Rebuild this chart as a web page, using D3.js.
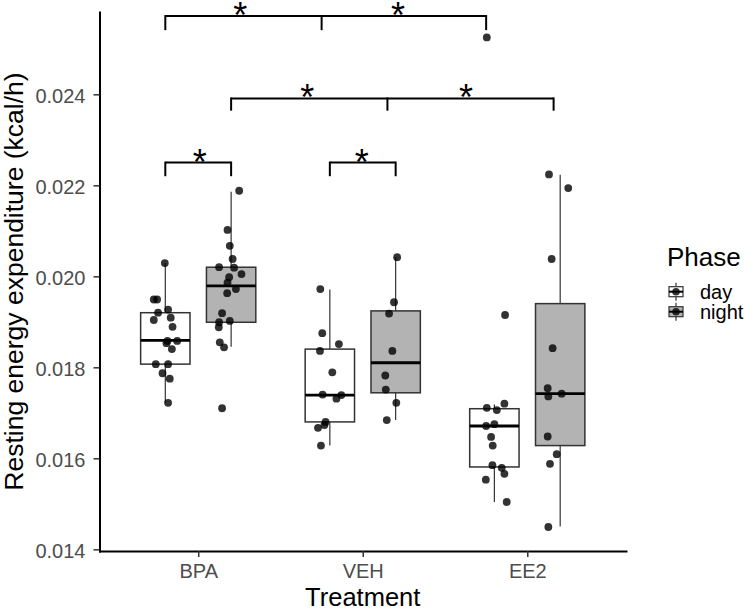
<!DOCTYPE html>
<html>
<head>
<meta charset="utf-8">
<script src="https://cdn.jsdelivr.net/npm/d3@7"></script>
<style>
  body { margin: 0; background: #fff; }
  text { font-family: "Liberation Sans", Arial, sans-serif; }
</style>
</head>
<body>
<div id="chart-area"></div>
<script>
// categories
let treatments = ["BPA", "VEH", "EE2"];
let phases = ["day", "night"];
let yTicks = [0.014, 0.016, 0.018, 0.020, 0.022, 0.024];

// box statistics, one entry per treatment x phase (BPA day, BPA night, VEH day, ...)
let boxGroups = [["BPA", "day"], ["BPA", "night"], ["VEH", "day"], ["VEH", "night"], ["EE2", "day"], ["EE2", "night"]];
let boxLow    = [0.01722, 0.01845, 0.01628, 0.01684, 0.01504, 0.01450];
let boxQ1     = [0.01807, 0.01899, 0.01680, 0.01744, 0.01581, 0.01628];
let boxMedian = [0.01859, 0.01979, 0.01739, 0.01810, 0.01671, 0.01742];
let boxQ3     = [0.01920, 0.02020, 0.01840, 0.01924, 0.01709, 0.01940];
let boxHigh   = [0.02029, 0.02186, 0.01971, 0.02042, 0.01718, 0.02223];

// individual animals (value, jitter in category units)
let bpaDay = [0.02029, 0.01949, 0.01949, 0.01927, 0.01920, 0.01904, 0.01909, 0.01889, 0.01858, 0.01858, 0.01853, 0.01840, 0.01807, 0.01807, 0.01787, 0.01775, 0.01722];
let bpaDayJit = [-0.003, -0.07, -0.05, 0.017, -0.044, -0.07, 0.033, 0.044, 0.013, 0.072, 0.007, 0.04, -0.058, 0.017, -0.017, 0.027, 0.017];
let bpaNight = [0.02188, 0.02102, 0.02067, 0.02038, 0.02020, 0.02019, 0.02005, 0.01998, 0.01986, 0.01972, 0.01963, 0.01919, 0.01899, 0.01902, 0.01888, 0.01855, 0.01844, 0.01710];
let bpaNightJit = [0.049, -0.022, -0.008, 0.009, -0.073, 0.018, 0.063, -0.012, -0.022, 0.029, -0.024, -0.055, -0.073, -0.008, -0.075, -0.069, -0.043, -0.055];
let vehDay = [0.01972, 0.01875, 0.01851, 0.01836, 0.01789, 0.01740, 0.01739, 0.01731, 0.01680, 0.01673, 0.01667, 0.01628];
let vehDayJit = [-0.058, -0.046, 0.055, -0.06, 0.015, -0.044, 0.07, 0.04, -0.026, -0.033, -0.072, -0.054];
let vehNight = [0.02042, 0.01943, 0.01918, 0.01836, 0.01782, 0.01751, 0.01722, 0.01684];
let vehNightJit = [0.009, -0.01, -0.04, -0.02, -0.063, -0.06, 0.004, -0.054];
let ee2Day = [0.02525, 0.01915, 0.01711, 0.01706, 0.01720, 0.01671, 0.01675, 0.01647, 0.01628, 0.01585, 0.01579, 0.01566, 0.01553, 0.01504];
let ee2DayJit = [-0.046, 0.065, -0.046, 0.015, 0.061, -0.05, 0, -0.02, -0.01, -0.012, 0.045, 0.061, -0.052, 0.075];
let ee2Night = [0.02224, 0.02194, 0.02038, 0.01842, 0.01754, 0.01736, 0.01742, 0.01648, 0.01609, 0.01588, 0.01449];
let ee2NightJit = [-0.068, 0.049, -0.052, -0.046, -0.076, -0.072, 0.009, -0.076, -0.021, -0.062, -0.072];

// significance brackets (x in category units, BPA = 1)
let bracketX = [[0.8, 1.75, 2.75], [1.2, 2.15, 3.16], [0.8, 1.2], [1.8, 2.2]];
let bracketY = [0.02572, 0.02391, 0.02250, 0.02250];
let bracketTip = [0.02541, 0.02364, 0.02220, 0.02220];
let starX = [1.255, 2.215, 1.662, 2.627, 1.01, 1.994];
let starBracket = [0, 0, 1, 1, 2, 3];

// SVG size
let width = 747,
	height = 611;

let svg = d3.select("#chart-area")
	.append("svg")
	.attr("width", width)
	.attr("height", height);

// scales
let x = d3.scalePoint()
	.domain(treatments)
	.range([99.5, 626])
	.padding(0.6);

let xu = u => x(treatments[0]) + (u - 1) * x.step();

let y = d3.scaleLinear()
	.domain([0.013963, 0.025809])
	.range([551, 12]);

let dodge = {day: -0.2, night: 0.2};
let boxWidth = 0.3 * x.step();
let phaseFill = d3.scaleOrdinal().domain(phases).range(["#ffffff", "#b3b3b3"]);

// build box table
let boxes = boxGroups.map((g, i) => ({
	treatment: g[0], phase: g[1],
	low: boxLow[i], q1: boxQ1[i], median: boxMedian[i], q3: boxQ3[i], high: boxHigh[i]
}));

let points = [];
[[bpaDay, bpaDayJit, "BPA", "day"], [bpaNight, bpaNightJit, "BPA", "night"],
 [vehDay, vehDayJit, "VEH", "day"], [vehNight, vehNightJit, "VEH", "night"],
 [ee2Day, ee2DayJit, "EE2", "day"], [ee2Night, ee2NightJit, "EE2", "night"]].forEach(s => {
	s[0].forEach((v, i) => points.push({value: v, jitter: s[1][i], treatment: s[2], phase: s[3]}));
});

let cx = d => x(d.treatment) + dodge[d.phase] * x.step();

// whiskers
let boxG = svg.append("g");
boxG.selectAll(".whisker-top")
	.data(boxes)
	.enter()
	.append("line")
	.attr("x1", cx).attr("x2", cx)
	.attr("y1", d => y(d.q3)).attr("y2", d => y(d.high))
	.attr("stroke", "#333333").attr("stroke-width", 1.2);

boxG.selectAll(".whisker-bottom")
	.data(boxes)
	.enter()
	.append("line")
	.attr("x1", cx).attr("x2", cx)
	.attr("y1", d => y(d.q1)).attr("y2", d => y(d.low))
	.attr("stroke", "#333333").attr("stroke-width", 1.2);

// boxes
boxG.selectAll("rect")
	.data(boxes)
	.enter()
	.append("rect")
	.attr("x", d => cx(d) - boxWidth / 2)
	.attr("width", boxWidth)
	.attr("y", d => y(d.q3))
	.attr("height", d => y(d.q1) - y(d.q3))
	.attr("fill", d => phaseFill(d.phase))
	.attr("stroke", "#333333")
	.attr("stroke-width", 1.5);

// medians
boxG.selectAll(".median")
	.data(boxes)
	.enter()
	.append("line")
	.attr("x1", d => cx(d) - boxWidth / 2)
	.attr("x2", d => cx(d) + boxWidth / 2)
	.attr("y1", d => y(d.median)).attr("y2", d => y(d.median))
	.attr("stroke", "#000").attr("stroke-width", 2.8);

// jittered points
svg.append("g").selectAll("circle")
	.data(points)
	.enter()
	.append("circle")
	.attr("cx", d => cx(d) + d.jitter * x.step())
	.attr("cy", d => y(d.value))
	.attr("r", 3.9)
	.attr("fill", "#000")
	.attr("fill-opacity", 0.8);

// brackets
let brG = svg.append("g");
bracketX.forEach((xs, i) => {
	brG.append("line")
		.attr("x1", xu(xs[0])).attr("x2", xu(xs[xs.length - 1]))
		.attr("y1", y(bracketY[i])).attr("y2", y(bracketY[i]))
		.attr("stroke", "#000").attr("stroke-width", 2);
	xs.forEach(u => {
		brG.append("line")
			.attr("x1", xu(u)).attr("x2", xu(u))
			.attr("y1", y(bracketY[i]) - 1).attr("y2", y(bracketTip[i]))
			.attr("stroke", "#000").attr("stroke-width", 2);
	});
});

brG.selectAll("text")
	.data(starX)
	.enter()
	.append("text")
	.attr("x", d => xu(d))
	.attr("y", (d, i) => y(bracketY[starBracket[i]]) + 12)
	.attr("text-anchor", "middle")
	.style("font-size", "36px")
	.attr("fill", "#000")
	.text("*");

// axes
let xAxis = d3.axisBottom(x).tickSize(6).tickSizeOuter(0).tickPadding(7);
let yAxis = d3.axisLeft(y).tickValues(yTicks).tickFormat(d3.format(".3f")).tickSize(6).tickSizeOuter(0).tickPadding(8);

let xGroup = svg.append("g")
	.attr("transform", "translate(0,551)")
	.call(xAxis);

let yGroup = svg.append("g")
	.attr("transform", "translate(99.5,0)")
	.call(yAxis);

[xGroup, yGroup].forEach(g => {
	g.select(".domain").attr("stroke", "#000").attr("stroke-width", 2).attr("stroke-linecap", "square");
	g.selectAll(".tick line").attr("stroke", "#333333").attr("stroke-width", 1.5);
	g.selectAll(".tick text").attr("fill", "#4d4d4d").style("font-size", "20px");
});
yGroup.selectAll(".tick text").attr("dy", "0.42em");

// axis titles
svg.append("text")
	.attr("x", x(treatments[1]))
	.attr("y", 605.5)
	.attr("text-anchor", "middle")
	.style("font-size", "25.5px")
	.text("Treatment");

svg.append("text")
	.attr("transform", "translate(23," + ((12 + 551) / 2) + ")rotate(-90)")
	.attr("text-anchor", "middle")
	.style("font-size", "26.5px")
	.text("Resting energy expenditure (kcal/h)");

// legend
let legend = svg.append("g").attr("transform", "translate(667,0)");
legend.append("text")
	.attr("x", 0).attr("y", 266)
	.style("font-size", "26px")
	.text("Phase");

let keys = legend.selectAll(".key")
	.data(phases)
	.enter()
	.append("g")
	.attr("transform", (d, i) => "translate(0," + (291.7 + i * 20) + ")");

keys.append("line")
	.attr("x1", 9).attr("x2", 9).attr("y1", -9).attr("y2", 9)
	.attr("stroke", "#333333").attr("stroke-width", 1.2);
keys.append("rect")
	.attr("x", 2).attr("y", -5).attr("width", 14).attr("height", 10)
	.attr("fill", d => phaseFill(d))
	.attr("stroke", "#333333").attr("stroke-width", 1.2);
keys.append("line")
	.attr("x1", 2).attr("x2", 16).attr("y1", 0).attr("y2", 0)
	.attr("stroke", "#000").attr("stroke-width", 2);
keys.append("circle")
	.attr("cx", 9).attr("cy", 0).attr("r", 3.8)
	.attr("fill", "#000").attr("fill-opacity", 0.8);
keys.append("text")
	.attr("x", 33).attr("y", 7)
	.style("font-size", "20px")
	.text(d => d);
</script>
</body>
</html>
